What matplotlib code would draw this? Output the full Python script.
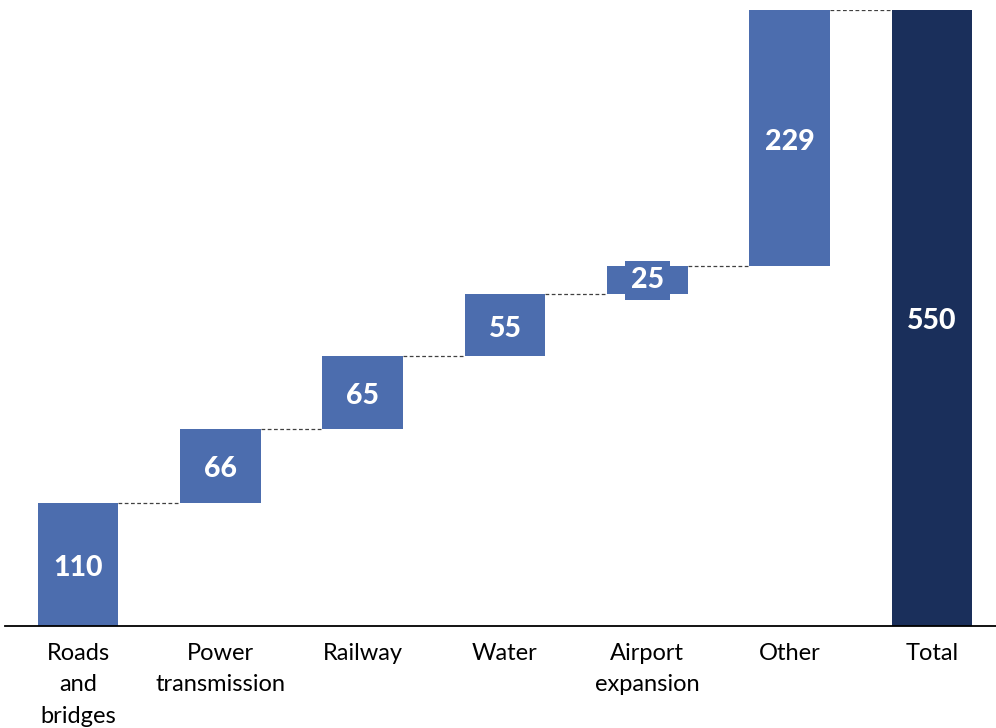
import matplotlib
matplotlib.use("Agg")
import matplotlib.pyplot as plt

categories = ["Roads\nand\nbridges", "Power\ntransmission", "Railway", "Water",
              "Airport\nexpansion", "Other", "Total"]
increments = [110, 66, 65, 55, 25, 229]
total = 550

BAR_COLOR = "#4C6DAE"
TOTAL_COLOR = "#1A2F5B"
FONT = ["Lato", "DejaVu Sans"]

fig = plt.figure(figsize=(9.96, 7.28), dpi=100)
ax = fig.add_axes([5 / 996, 102 / 728, 991 / 996, 616 / 728])

width = 0.565
bottoms = []
running = 0
for v in increments:
    bottoms.append(running)
    running += v

xs = list(range(len(categories)))
ax.bar(xs[:-1], increments, bottom=bottoms, width=width, color=BAR_COLOR,
       edgecolor="none", zorder=2)
ax.bar(xs[-1], total, width=width, color=TOTAL_COLOR, edgecolor="none", zorder=2)

# dashed connectors between consecutive bars
levels = [b + v for b, v in zip(bottoms, increments)]
for i, lvl in enumerate(levels):
    ax.plot([xs[i] + width / 2, xs[i + 1] - width / 2], [lvl, lvl],
            color="#404040", lw=0.9, ls=(0, (3, 2)), zorder=1)

# value labels, centred in each bar
label_kw = dict(ha="center", va="center", color="white", fontsize=20.5,
                fontweight=900, family=FONT, zorder=3,
                textcoords="offset points")
for x, b, v in zip(xs[:-1], bottoms, increments):
    kw = {"xytext": (0, -2.5)}
    if v < 40:
        # short bars get a backing box so the label stays readable
        kw = {"xytext": (0, 0),
              "bbox": dict(boxstyle="square,pad=0.22", fc=BAR_COLOR, ec="none")}
    ax.annotate(f"{v}", (x, b + v / 2), **label_kw, **kw)
ax.annotate(f"{total}", (xs[-1], total / 2), xytext=(0, -2.5), **label_kw)

ax.set_xlim(-73 / 142.3, 6 + 64 / 142.3)
ax.set_ylim(0, 550)

for s in ["top", "right", "left"]:
    ax.spines[s].set_visible(False)
ax.spines["bottom"].set_linewidth(1.3)
ax.spines["bottom"].set_color("black")
ax.set_yticks([])
ax.set_xticks(xs)
ax.set_xticklabels(categories, family=FONT, fontsize=17, linespacing=1.63,
                   va="top")
ax.tick_params(axis="x", length=0, pad=12)

fig.savefig("out.png", dpi=100)
